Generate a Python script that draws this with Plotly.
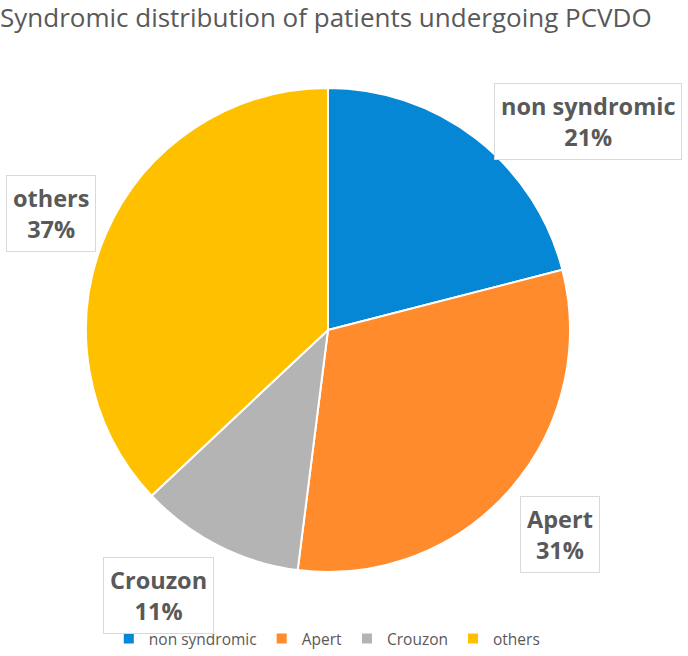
import plotly.graph_objects as go

labels = ["non syndromic", "Apert", "Crouzon", "others"]
values = [21, 31, 11, 37]
colors = ["#0587D6", "#FF8B2C", "#B4B4B4", "#FFC000"]
# label box centres (paper coords, layout only)
label_pos = [(0.855, 0.8155), (0.814, 0.1845), (0.231, 0.0915), (0.074, 0.674)]

W, H = 688, 656
cx, cy, r = 328, 330, 242

fig = go.Figure(go.Pie(
    labels=labels, values=values, sort=False, direction="clockwise", rotation=0,
    marker=dict(colors=colors, line=dict(color="white", width=2)),
    textinfo="none", hoverinfo="label+percent",
    domain=dict(x=[(cx - r) / W, (cx + r) / W], y=[1 - (cy + r) / H, 1 - (cy - r) / H]),
))

total = sum(values)
for lab, v, (x, y) in zip(labels, values, label_pos):
    fig.add_annotation(
        x=x, y=y, xref="paper", yref="paper", xanchor="center", yanchor="middle",
        showarrow=False,
        text=f"<b>{lab}<br>{round(100 * v / total)}%</b>",
        font=dict(family="Open Sans", size=23.5, color="#595959"),
        bgcolor="white", bordercolor="#D9D9D9", borderwidth=1, borderpad=6,
        align="center",
    )

fig.update_layout(
    width=W, height=H,
    margin=dict(l=0, r=0, t=0, b=0),
    paper_bgcolor="white", plot_bgcolor="white",
    title=dict(text="Syndromic distribution of patients undergoing PCVDO",
               x=0.0, xanchor="left", y=0.986, yanchor="top",
               font=dict(family="Open Sans", size=26, color="#595959")),
    legend=dict(orientation="h", x=0.475, xanchor="center", y=0.0, yanchor="bottom",
                font=dict(family="Open Sans", size=15.5, color="#595959"),
                traceorder="normal", itemwidth=30),
    showlegend=True,
)

fig.write_html("out.html", config={"displayModeBar": False},
               post_script="document.body.style.margin='0';")
